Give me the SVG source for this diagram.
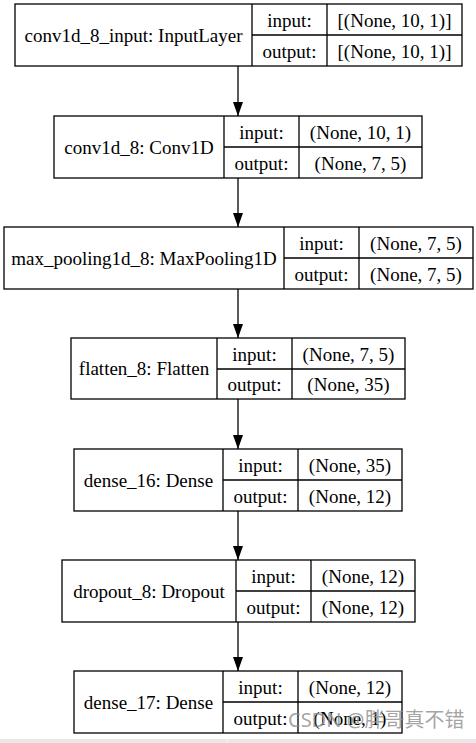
<svg xmlns="http://www.w3.org/2000/svg" width="476" height="743" viewBox="0 0 476 743">
<style>
.b{fill:#fff;stroke:#000;stroke-width:1.3}
.l{stroke:#000;stroke-width:1.3;fill:none}
text{font-family:"Liberation Serif","Times New Roman",serif;font-size:19px;fill:#000;text-anchor:middle}
.wm{font-family:"Noto Sans","Noto Sans CJK SC",sans-serif;font-size:20px;fill:#8c8c8c;fill-opacity:0.8;text-anchor:start}
</style>
<defs>
<marker id="ah" markerWidth="14" markerHeight="10" refX="14" refY="5" orient="auto" markerUnits="userSpaceOnUse" viewBox="0 0 14 10">
<path d="M0,0 L14,5 L0,10 Z" fill="#000"/>
</marker>
</defs>
<rect width="476" height="743" fill="#fff"/>
<g id="connectors">
<line class="l" x1="238" y1="66" x2="238" y2="116" marker-end="url(#ah)"/>
<line class="l" x1="238" y1="178" x2="238" y2="227" marker-end="url(#ah)"/>
<line class="l" x1="238" y1="289" x2="238" y2="338" marker-end="url(#ah)"/>
<line class="l" x1="238" y1="399" x2="238" y2="449" marker-end="url(#ah)"/>
<line class="l" x1="238" y1="511" x2="238" y2="560" marker-end="url(#ah)"/>
<line class="l" x1="238" y1="622" x2="238" y2="671" marker-end="url(#ah)"/>
</g>
<g id="n1">
<rect class="b" x="15" y="4" width="447" height="62"/>
<path class="l" d="M252,4V66M327,4V66M252,35H462"/>
<text x="133.5" y="41.5">conv1d_8_input: InputLayer</text>
<text x="289.5" y="27">input:</text>
<text x="289.5" y="58">output:</text>
<text x="394.5" y="27">[(None, 10, 1)]</text>
<text x="394.5" y="58">[(None, 10, 1)]</text>
</g>
<g id="n2">
<rect class="b" x="54" y="116" width="368" height="62"/>
<path class="l" d="M224,116V178M299,116V178M224,147H422"/>
<text x="139" y="153.5">conv1d_8: Conv1D</text>
<text x="261.5" y="139">input:</text>
<text x="261.5" y="170">output:</text>
<text x="360.5" y="139">(None, 10, 1)</text>
<text x="360.5" y="170">(None, 7, 5)</text>
</g>
<g id="n3">
<rect class="b" x="4" y="227" width="469" height="62"/>
<path class="l" d="M284,227V289M359,227V289M284,258H473"/>
<text x="144" y="264.5">max_pooling1d_8: MaxPooling1D</text>
<text x="321.5" y="250">input:</text>
<text x="321.5" y="281">output:</text>
<text x="416" y="250">(None, 7, 5)</text>
<text x="416" y="281">(None, 7, 5)</text>
</g>
<g id="n4">
<rect class="b" x="71" y="338" width="334" height="61"/>
<path class="l" d="M217,338V399M292,338V399M217,369H405"/>
<text x="144" y="375">flatten_8: Flatten</text>
<text x="254.5" y="361">input:</text>
<text x="254.5" y="391">output:</text>
<text x="348.5" y="361">(None, 7, 5)</text>
<text x="348.5" y="391">(None, 35)</text>
</g>
<g id="n5">
<rect class="b" x="74" y="449" width="328" height="62"/>
<path class="l" d="M223,449V511M298,449V511M223,480H402"/>
<text x="148.5" y="486.5">dense_16: Dense</text>
<text x="260.5" y="472">input:</text>
<text x="260.5" y="503">output:</text>
<text x="350" y="472">(None, 35)</text>
<text x="350" y="503">(None, 12)</text>
</g>
<g id="n6">
<rect class="b" x="62" y="560" width="353" height="62"/>
<path class="l" d="M236,560V622M311,560V622M236,591H415"/>
<text x="149" y="597.5">dropout_8: Dropout</text>
<text x="273.5" y="583">input:</text>
<text x="273.5" y="614">output:</text>
<text x="363" y="583">(None, 12)</text>
<text x="363" y="614">(None, 12)</text>
</g>
<g id="n7">
<rect class="b" x="74" y="671" width="328" height="62"/>
<path class="l" d="M223,671V733M298,671V733M223,702H402"/>
<text x="148.5" y="708.5">dense_17: Dense</text>
<text x="260.5" y="694">input:</text>
<text x="260.5" y="725">output:</text>
<text x="350" y="694">(None, 12)</text>
<text x="350" y="725">(None, 1)</text>
</g>
<rect x="0" y="739" width="476" height="4" fill="#e8e8e8"/>
<line x1="227" y1="739" x2="227" y2="743" stroke="#f8f8f8" stroke-width="1"/>
<text class="wm" x="288" y="727">CSDN @胖哥真不错</text>
</svg>
